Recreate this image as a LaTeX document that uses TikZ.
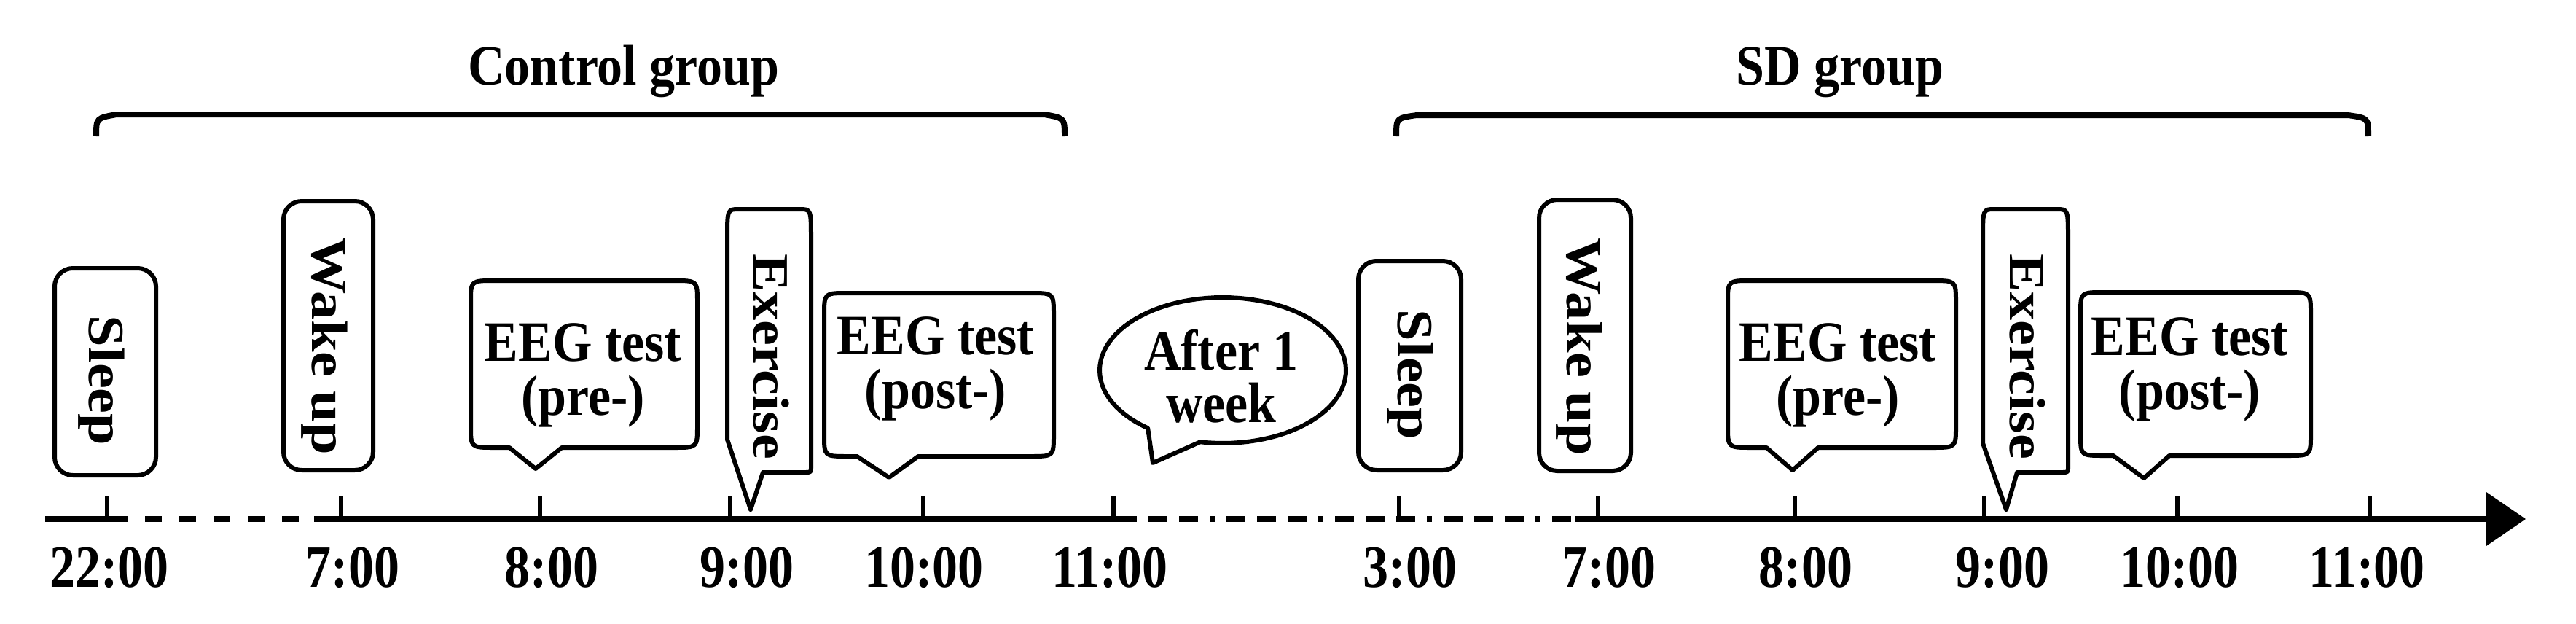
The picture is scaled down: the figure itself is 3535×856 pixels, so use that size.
\documentclass[tikz,border=0pt]{standalone}
\usepackage{fontspec}
\setmainfont{Liberation Serif}
\usetikzlibrary{arrows.meta}
% rounded callout box with a pointer on its bottom edge
% #1 x-left #2 x-right #3 y-top #4 y-bottom #5 base-left x #6 tip x #7 tip y #8 base-right x
\newcommand\callbox[8]{%
  \draw[boxline] ({#1+32},#3) -- ({#2-32},#3) .. controls (#2,#3) .. (#2,{#3+30})
    -- (#2,{#4-30}) .. controls (#2,#4) .. ({#2-32},#4)
    -- (#8,#4) -- (#6,#7) -- (#5,#4)
    -- ({#1+32},#4) .. controls (#1,#4) .. (#1,{#4-30})
    -- (#1,{#3+30}) .. controls (#1,#3) .. ({#1+32},#3) -- cycle;}
% tall box whose pointer leaves from the bottom-left corner
% #1 x-left #2 x-right #3 y-top #4 y-bottom #5 y where left side turns #6 tip x #7 tip y #8 base-right x
\newcommand\exbox[8]{%
  \draw[boxline] ({#1+16},#3) -- ({#2-16},#3) .. controls (#2,#3) .. (#2,{#3+42})
    -- (#2,{#4-8}) .. controls (#2,#4) .. ({#2-8},#4)
    -- (#8,#4) -- (#6,#7) -- (#1,#5)
    -- (#1,{#3+42}) .. controls (#1,#3) .. ({#1+16},#3) -- cycle;}
\begin{document}
\begin{tikzpicture}[x=1pt,y=-1pt,
  txt/.style={font=\fontsize{70}{66}\selectfont\bfseries, inner sep=0pt, yscale=1.12},
  vtxt/.style={font=\fontsize{70}{66}\selectfont\bfseries, inner sep=0pt, rotate=-90, xscale=1.12},
  boxline/.style={line width=6pt, line join=round, fill=white},
  vbox/.style={draw, line width=6pt, rounded corners=25pt, inner sep=0pt, fill=white},
  axisline/.style={line width=7.5pt},
  tickline/.style={line width=6pt},
  braceline/.style={line width=8pt}]
\useasboundingbox (0,0) rectangle (3535,856);

% group titles and brackets
\node[txt, anchor=base] (ctl) at (856,117) {Control group};
\node[txt, anchor=base] (sdg) at (2525,117) {SD group};
\draw[braceline] (132,187) .. controls (132,162) .. (160,157) -- (1433,157)
  .. controls (1461,162) .. (1461,187);
\draw[braceline] (1916,187) .. controls (1916,162) .. (1944,158) -- (3222,158)
  .. controls (3250,162) .. (3250,187);

% time axis
\draw[axisline] (62,712) -- (175,712);
\draw[axisline, dash pattern=on 23pt off 24pt, dash phase=23pt] (175,712) -- (431,712);
\draw[axisline] (431,712) -- (1560,712);
\draw[axisline, dash pattern=on 26pt off 16pt on 26pt off 16pt on 26pt off 16pt on 7pt off 16pt,
      dash phase=26pt] (1560,712) -- (2161,712);
\draw[axisline, -{Triangle[length=54pt,width=72pt]}] (2161,712) -- (3466,712);
\foreach \t in {147,468,741,1002,1267,1528,1920,2193,2463,2723,2988,3252}
  \draw[tickline] (\t,680) -- (\t,712);

% time labels
\node[txt, anchor=base, yscale=1.05] (t1) at (150,805) {22:00};
\node[txt, anchor=base, yscale=1.05] (t2) at (484,805) {7:00};
\node[txt, anchor=base, yscale=1.05] (t3) at (757,805) {8:00};
\node[txt, anchor=base, yscale=1.05] (t4) at (1025,805) {9:00};
\node[txt, anchor=base, yscale=1.05] (t5) at (1268,805) {10:00};
\node[txt, anchor=base, yscale=1.05] (t6) at (1523,805) {11:00};
\node[txt, anchor=base, yscale=1.05] (t7) at (1935,805) {3:00};
\node[txt, anchor=base, yscale=1.05] (t8) at (2208,805) {7:00};
\node[txt, anchor=base, yscale=1.05] (t9) at (2478,805) {8:00};
\node[txt, anchor=base, yscale=1.05] (t10) at (2748,805) {9:00};
\node[txt, anchor=base, yscale=1.05] (t11) at (2991,805) {10:00};
\node[txt, anchor=base, yscale=1.05] (t12) at (3248,805) {11:00};

% control group events
\node[vbox, minimum width=139, minimum height=284] (sleep1) at (144.5,510) {};
\node[vtxt] (sleep1t) at (139,522) {Sleep};
\node[vbox, minimum width=123, minimum height=369] (wake1) at (450.5,460.5) {};
\node[vtxt] (wake1t) at (445,475) {Wake up};
\callbox{646}{957}{385}{614}{699}{735}{643}{771}
\node[txt, align=center] (pre1) at (800,515) {EEG test\\(pre-)};
\exbox{998}{1113}{287}{648}{603}{1030}{699}{1047}
\node[vtxt] (ex1) at (1058,489) {Exercise};
\callbox{1131}{1446}{402}{626}{1176}{1220}{655}{1260}
\node[txt, align=center] (post1) at (1284,506) {EEG test\\(post-)};

% after one week
\draw[boxline] plot[domain=-232.5:100.6, samples=90] ({1678+169*cos(\x)},{508+100*sin(\x)})
  -- (1582,635) -- cycle;
\node[txt, align=center, font=\fontsize{70}{64}\selectfont\bfseries] (week) at (1676,516) {After 1\\week};

% SD group events
\node[vbox, minimum width=141, minimum height=287] (sleep2) at (1934.5,501.5) {};
\node[vtxt] (sleep2t) at (1935,514) {Sleep};
\node[vbox, minimum width=126, minimum height=372] (wake2) at (2175,460) {};
\node[vtxt] (wake2t) at (2167,476) {Wake up};
\callbox{2371}{2684}{385}{614}{2424}{2460}{645}{2495}
\node[txt, align=center] (pre2) at (2522,515) {EEG test\\(pre-)};
\exbox{2721}{2838}{287}{648}{608}{2753}{699}{2768}
\node[vtxt] (ex2) at (2782,489) {Exercise};
\callbox{2855}{3171}{401}{625}{2900}{2942}{656}{2977}
\node[txt, align=center] (post2) at (3005,507) {EEG test\\(post-)};
\end{tikzpicture}
\end{document}
